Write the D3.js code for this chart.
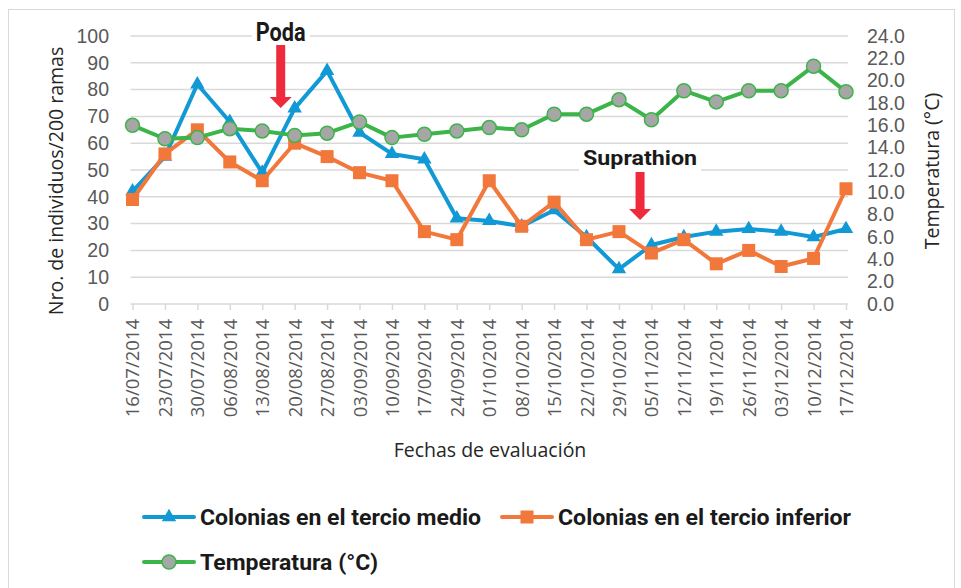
<!DOCTYPE html>
<html>
<head>
<meta charset="utf-8">
<script src="https://cdn.jsdelivr.net/npm/d3@7"></script>
<style>
  body { margin: 0; background: #fff; }
  svg { display: block; }
</style>
</head>
<body>
<div id="chart"></div>
<script>
const fechas = ["16/07/2014", "23/07/2014", "30/07/2014", "06/08/2014", "13/08/2014", "20/08/2014",
    "27/08/2014", "03/09/2014", "10/09/2014", "17/09/2014", "24/09/2014", "01/10/2014",
    "08/10/2014", "15/10/2014", "22/10/2014", "29/10/2014", "05/11/2014", "12/11/2014",
    "19/11/2014", "26/11/2014", "03/12/2014", "10/12/2014", "17/12/2014"];

const tercioMedio = [42, 55, 82, 68, 49, 73, 87, 64, 56, 54, 32, 31, 29, 35, 25, 13, 22, 25, 27, 28, 27, 25, 28];
const tercioInferior = [39, 56, 65, 53, 46, 60, 55, 49, 46, 27, 24, 46, 29, 38, 24, 27, 19, 24, 15, 20, 14, 17, 43];
const temperatura = [16.0, 14.8, 14.9, 15.7, 15.5, 15.1, 15.3, 16.3, 14.9, 15.2, 15.5, 15.8, 15.6, 17.0, 17.0,
    18.3, 16.5, 19.1, 18.1, 19.1, 19.1, 21.3, 19.0];

const leftTicks = [0, 10, 20, 30, 40, 50, 60, 70, 80, 90, 100];
const rightTicks = [0, 2, 4, 6, 8, 10, 12, 14, 16, 18, 20, 22, 24];

const cfg = {
    WIDTH: 961,
    HEIGHT: 588,
    LEFT: 132.5,
    RIGHT: 846,
    TOP: 36,
    BOTTOM: 304,
    FONT: "'Open Sans', 'Liberation Sans', sans-serif",
    TICK_FONT: "'Liberation Sans', Arial, sans-serif",
    BOLD: "Roboto, 'Open Sans', sans-serif",
    BLUE: "#1199d6",
    ORANGE: "#f2773b",
    GREEN: "#3cb44a",
    GRID: "#d9d9d9",
    TICK_TEXT: "#595959",
};

const svg = d3.select('#chart')
    .append('svg')
    .attr('width', cfg.WIDTH)
    .attr('height', cfg.HEIGHT);

// chart border
svg.append('rect')
    .attr('x', 8.5).attr('y', 9.5)
    .attr('width', 946).attr('height', 600)
    .attr('fill', '#fff')
    .attr('stroke', '#d9d9d9');

const x = d3.scalePoint()
    .domain(fechas)
    .range([cfg.LEFT, cfg.RIGHT]);

const yLeft = d3.scaleLinear()
    .domain([0, 100])
    .range([cfg.BOTTOM, cfg.TOP]);

const yRight = d3.scaleLinear()
    .domain([0, 24])
    .range([cfg.BOTTOM, cfg.TOP]);

// gridlines
svg.append('g')
    .selectAll('line')
    .data(leftTicks.filter(d => d > 0))
    .join('line')
    .attr('x1', cfg.LEFT - 2).attr('x2', cfg.RIGHT + 2)
    .attr('y1', d => yLeft(d)).attr('y2', d => yLeft(d))
    .attr('stroke', cfg.GRID)
    .attr('stroke-width', 1.5);

// x axis
const xAxis = svg.append('g')
    .attr('transform', `translate(0, ${cfg.BOTTOM})`)
    .call(d3.axisBottom(x).tickSize(6).tickSizeOuter(0));
xAxis.select('.domain').attr('stroke', cfg.GRID).attr('stroke-width', 1.5)
    .attr('d', `M${cfg.LEFT - 2},0H${cfg.RIGHT + 2}`);
xAxis.selectAll('.tick line').attr('stroke', cfg.GRID).attr('stroke-width', 1.5);
xAxis.selectAll('.tick text')
    .attr('transform', 'rotate(-90)')
    .attr('x', -15)
    .attr('y', 0)
    .attr('dy', '0.35em')
    .attr('text-anchor', 'end')
    .style('font-family', cfg.FONT)
    .style('font-size', '18.5px')
    .attr('fill', cfg.TICK_TEXT);

// left axis
const leftAxis = svg.append('g')
    .attr('transform', 'translate(109, 0)')
    .call(d3.axisLeft(yLeft).tickValues(leftTicks).tickSize(0).tickPadding(0));
leftAxis.select('.domain').remove();
leftAxis.selectAll('text')
    .style('font-family', cfg.TICK_FONT)
    .style('font-size', '19.5px')
    .attr('fill', cfg.TICK_TEXT);

// right axis
const rightAxis = svg.append('g')
    .attr('transform', 'translate(867, 0)')
    .call(d3.axisRight(yRight).tickValues(rightTicks).tickFormat(d3.format('.1f')).tickSize(0).tickPadding(0));
rightAxis.select('.domain').remove();
rightAxis.selectAll('text')
    .style('font-family', cfg.TICK_FONT)
    .style('font-size', '19.5px')
    .attr('fill', cfg.TICK_TEXT);

// axis titles
svg.append('text')
    .attr('transform', 'translate(63, 181) rotate(-90)')
    .attr('text-anchor', 'middle')
    .style('font-family', cfg.FONT)
    .style('font-size', '19.5px')
    .attr('fill', '#262626')
    .text('Nro. de individuos/200 ramas');

svg.append('text')
    .attr('transform', 'translate(939, 171) rotate(-90)')
    .attr('text-anchor', 'middle')
    .style('font-family', cfg.FONT)
    .style('font-size', '19.5px')
    .attr('fill', '#262626')
    .text('Temperatura (°C)');

svg.append('text')
    .attr('x', 490).attr('y', 457)
    .attr('text-anchor', 'middle')
    .style('font-family', cfg.FONT)
    .style('font-size', '19.5px')
    .attr('fill', '#262626')
    .text('Fechas de evaluación');

// annotations: label, date after which the arrow sits, fraction of the step
const annotations = [
    { label: "Poda", date: "13/08/2014", frac: 0.57, tip: 108, top: 45, textY: 41, size: 25, len: 50 },
    { label: "Suprathion", date: "29/10/2014", frac: 0.65, tip: 220, top: 172, textY: 165, size: 21, len: 114 },
];
const step = x.step();

annotations.forEach(a => {
    const cx = x(a.date) + a.frac * step;
    const g = svg.append('g');
    const t = g.append('text')
        .attr('x', cx).attr('y', a.textY)
        .attr('text-anchor', 'middle')
        .attr('textLength', a.len)
        .attr('lengthAdjust', 'spacingAndGlyphs')
        .style('font-family', cfg.BOLD)
        .style('font-weight', 'bold')
        .style('font-size', a.size + 'px')
        .attr('fill', '#1a1a1a')
        .text(a.label);
    const bb = t.node().getBBox();
    g.insert('rect', 'text')
        .attr('x', cx - a.len / 2 - 4).attr('y', bb.y - 1)
        .attr('width', a.len + 8).attr('height', bb.height + 3)
        .attr('fill', '#fff');
    // arrow
    const headH = 11, headW = 11, shaft = 4.5;
    g.append('path')
        .attr('d', `M${cx - shaft},${a.top} H${cx + shaft} V${a.tip - headH} H${cx + headW} L${cx},${a.tip} L${cx - headW},${a.tip - headH} H${cx - shaft} Z`)
        .attr('fill', '#ee2a3c');
});

// series
const series = [
    { name: "Colonias en el tercio medio", values: tercioMedio, y: yLeft, color: cfg.BLUE, marker: 'triangle', len: 281 },
    { name: "Colonias en el tercio inferior", values: tercioInferior, y: yLeft, color: cfg.ORANGE, marker: 'square', len: 293 },
    { name: "Temperatura (°C)", values: temperatura, y: yRight, color: cfg.GREEN, marker: 'circle', len: 178 },
];

function drawMarker(sel, s) {
    if (s.marker === 'triangle') {
        sel.append('path')
            .attr('d', d3.symbol(d3.symbolTriangle, 90)())
            .attr('fill', s.color);
    } else if (s.marker === 'square') {
        sel.append('rect')
            .attr('x', -6.5).attr('y', -6.5)
            .attr('width', 13).attr('height', 13)
            .attr('fill', s.color);
    } else {
        sel.append('circle')
            .attr('r', 7)
            .attr('fill', '#a6a6a6')
            .attr('stroke', s.color)
            .attr('stroke-width', 1.5);
    }
}

series.forEach(s => {
    const line = d3.line()
        .x((d, i) => x(fechas[i]))
        .y(d => s.y(d));
    svg.append('path')
        .datum(s.values)
        .attr('d', line)
        .attr('fill', 'none')
        .attr('stroke', s.color)
        .attr('stroke-width', 4)
        .attr('stroke-linejoin', 'round');
    svg.append('g')
        .selectAll('g')
        .data(s.values)
        .join('g')
        .attr('transform', (d, i) => `translate(${x(fechas[i])}, ${s.y(d)})`)
        .each(function () { drawMarker(d3.select(this), s); });
});

// legend
const legendPos = [[144, 517], [502, 517], [144, 562]];
series.forEach((s, i) => {
    const [lx, ly] = legendPos[i];
    const g = svg.append('g').attr('transform', `translate(${lx}, ${ly})`);
    g.append('line')
        .attr('x1', 0).attr('x2', 50)
        .attr('stroke', s.color)
        .attr('stroke-width', 4)
        .attr('stroke-linecap', 'round');
    const m = g.append('g').attr('transform', 'translate(25, 0)');
    drawMarker(m, s);
    g.append('text')
        .attr('x', 56).attr('y', 0)
        .attr('dy', '0.36em')
        .attr('textLength', s.len)
        .attr('lengthAdjust', 'spacingAndGlyphs')
        .style('font-family', cfg.BOLD)
        .style('font-weight', 'bold')
        .style('font-size', '22px')
        .attr('fill', '#1a1a1a')
        .text(s.name);
});
</script>
</body>
</html>
